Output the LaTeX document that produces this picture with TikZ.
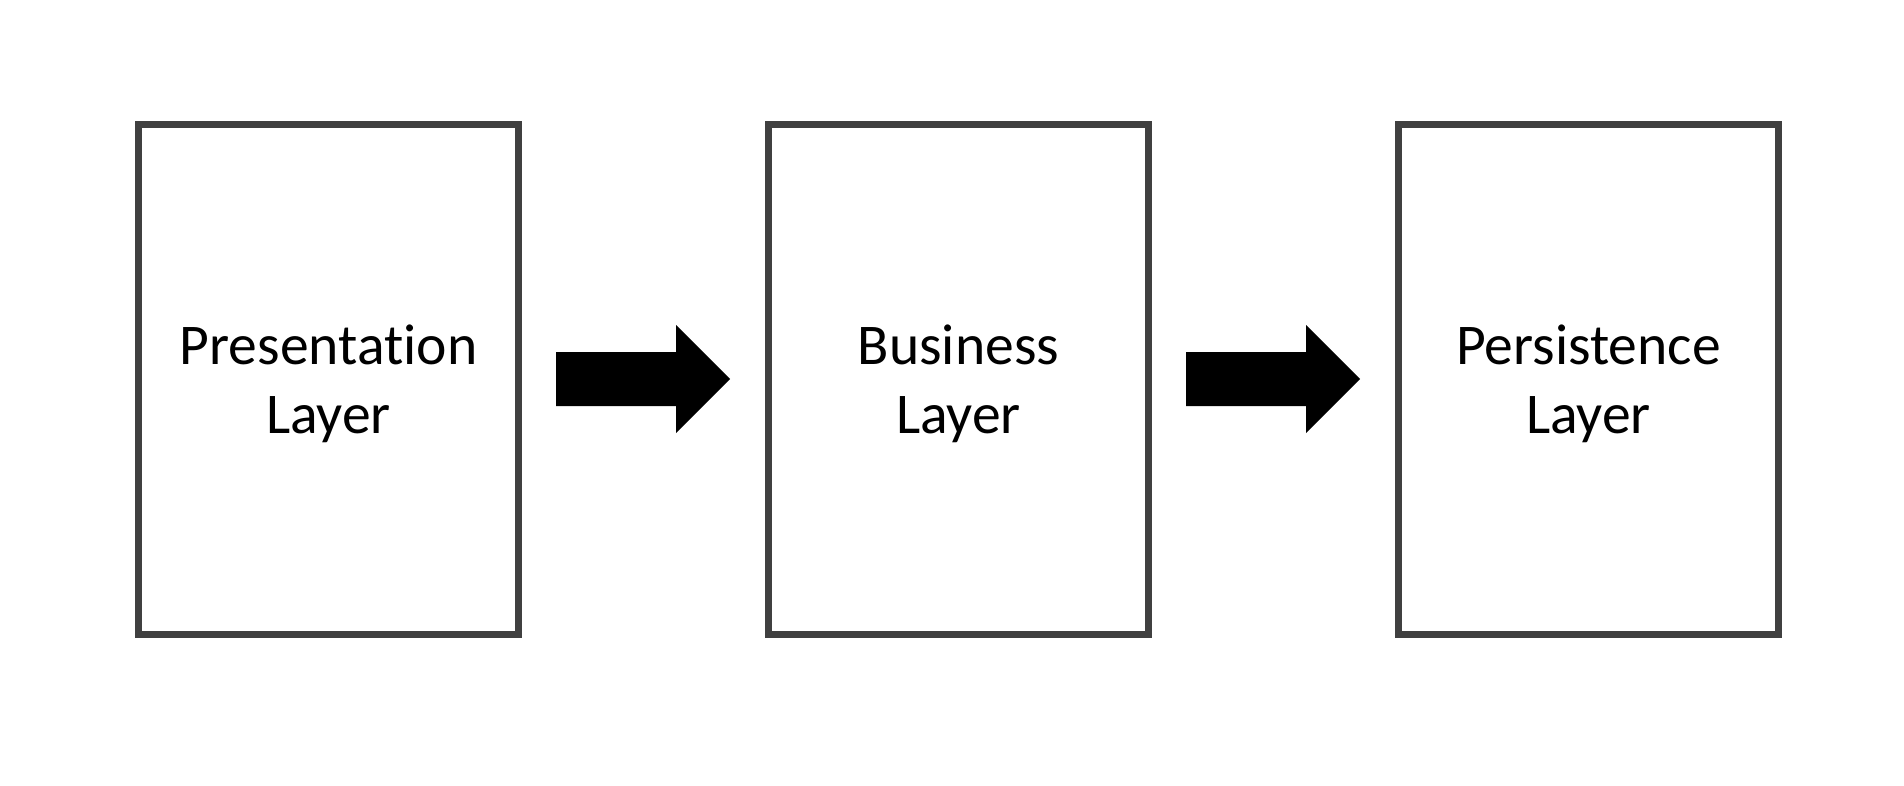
\documentclass[tikz,border=0pt]{standalone}
\usepackage{fontspec}
\setmainfont[Ligatures=NoCommon]{Carlito}
\usetikzlibrary{calc}
\newcommand{\firstline}{\rule{0pt}{24pt}}
\tikzset{
  layerbox/.style={draw=boxgray, line width=3.5pt, fill=white, minimum width=190pt, minimum height=255pt, inner sep=0pt,
    align=center, font=\fontsize{28.8}{34.5}\selectfont},
  blockarrow/.style={fill=black}
}
\definecolor{boxgray}{HTML}{404040}
\begin{document}
\begin{tikzpicture}[x=0.5pt,y=-0.5pt]
\useasboundingbox (0,0) rectangle (1904,786);
\node[layerbox] (b1) at (328.5,379.5) {\firstline Presentation\\Layer};
\node[layerbox] (b2) at (958.5,379.5) {\firstline Business\\Layer};
\node[layerbox] (b3) at (1588.5,379.5) {\firstline Persistence\\Layer};
\foreach \a/\b in {b1/b2, b2/b3}{
  \coordinate (s) at ($(\a.east)+(34,-0.5)$);
  \fill[blockarrow] (s) ++(0,-27) -- ++(120,0) -- ++(0,-27) -- ++(54,54) -- ++(-54,54) -- ++(0,-27) -- ++(-120,0) -- cycle;
}
\end{tikzpicture}
\end{document}
